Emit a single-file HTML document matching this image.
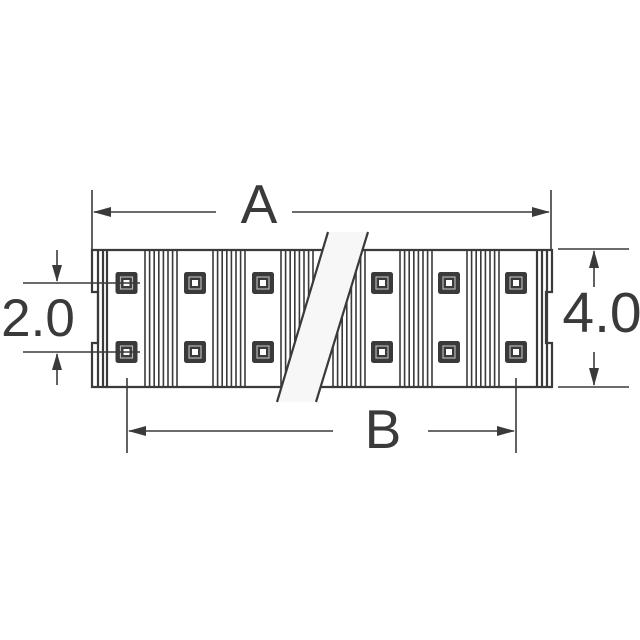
<!DOCTYPE html>
<html><head><style>html,body{margin:0;padding:0;background:#fff;}svg{display:block;}</style></head>
<body>
<svg width="640" height="640" viewBox="0 0 640 640" xmlns="http://www.w3.org/2000/svg">
<defs>
<g id="pad">
<rect x="-11" y="-11" width="22" height="22" rx="2.5" fill="#3a3a3a"/>
<rect x="-6" y="-6" width="12" height="12" fill="none" stroke="#b5b5b5" stroke-width="1.2"/>
<rect x="-3" y="-3" width="6" height="6" fill="#fff"/>
</g>
</defs>
<g stroke="#3a3a3a" fill="none" stroke-width="2.2">
<path d="M92,250 H552 V292 H546 V343 H552 V387 H92 V343 H98 V292 H92 Z" fill="#fff"/>
<line x1="98" y1="250" x2="98" y2="387"/>
<line x1="103" y1="250" x2="103" y2="387"/>
<line x1="107" y1="250" x2="107" y2="387"/>
<line x1="537" y1="250" x2="537" y2="387"/>
<line x1="542" y1="250" x2="542" y2="387"/>
<line x1="547" y1="250" x2="547" y2="387"/>
</g>
<g stroke="#3a3a3a" stroke-width="1.6">
<g id="grp">
<line x1="145" y1="250" x2="145" y2="387"/><line x1="149.6" y1="250" x2="149.6" y2="387"/>
<line x1="154.2" y1="250" x2="154.2" y2="387"/><line x1="158.8" y1="250" x2="158.8" y2="387"/>
<line x1="163.4" y1="250" x2="163.4" y2="387"/><line x1="168" y1="250" x2="168" y2="387"/>
<line x1="172.6" y1="250" x2="172.6" y2="387"/><line x1="177" y1="250" x2="177" y2="387"/>
</g>
<use href="#grp" x="68"/>
<use href="#grp" x="136"/>
<use href="#grp" x="188"/>
<use href="#grp" x="255"/>
<use href="#grp" x="322"/>
</g>
<use href="#pad" x="126.5" y="283"/><use href="#pad" x="126.5" y="352"/>
<use href="#pad" x="195" y="283"/><use href="#pad" x="195" y="352"/>
<use href="#pad" x="263" y="283"/><use href="#pad" x="263" y="352"/>
<use href="#pad" x="382" y="283"/><use href="#pad" x="382" y="352"/>
<use href="#pad" x="449" y="283"/><use href="#pad" x="449" y="352"/>
<use href="#pad" x="516" y="283"/><use href="#pad" x="516" y="352"/>
<polygon points="328,232 368,232 316,402 277,402" fill="#f7f7f7"/>
<g stroke="#3a3a3a" stroke-width="2.2">
<line x1="328" y1="232" x2="277" y2="402"/>
<line x1="368" y1="232" x2="316" y2="402"/>
</g>
<g stroke="#3a3a3a" stroke-width="1.6" fill="none">
<line x1="92" y1="190" x2="92" y2="250"/><line x1="551" y1="190" x2="551" y2="250"/>
<line x1="94" y1="212" x2="216" y2="212"/><line x1="292" y1="212" x2="549" y2="212"/>
<line x1="558" y1="249" x2="629" y2="249"/><line x1="558" y1="387" x2="629" y2="387"/>
<line x1="594" y1="251" x2="594" y2="287"/><line x1="594" y1="352" x2="594" y2="385"/>
<line x1="23" y1="283" x2="140" y2="283"/><line x1="23" y1="352" x2="140" y2="352"/>
<line x1="57" y1="250" x2="57" y2="281"/><line x1="57" y1="354" x2="57" y2="385"/>
<line x1="127" y1="378" x2="127" y2="453"/><line x1="516" y1="378" x2="516" y2="453"/>
<line x1="129" y1="431" x2="333" y2="431"/><line x1="428" y1="431" x2="514" y2="431"/>
</g>
<g fill="#3a3a3a">
<polygon points="93,212 111,207 111,217"/><polygon points="550,212 532,207 532,217"/>
<polygon points="594,250 589,268 599,268"/><polygon points="594,386 589,368 599,368"/>
<polygon points="57,282 52,265 62,265"/><polygon points="57,353 52,370 62,370"/>
<polygon points="128,431 146,426 146,436"/><polygon points="515,431 497,426 497,436"/>
</g>
<g font-family="Liberation Sans, sans-serif" fill="#3a3a3a">
<text x="259" y="223" font-size="55" text-anchor="middle">A</text>
<text x="383" y="448" font-size="55" text-anchor="middle">B</text>
<text x="38" y="336" font-size="53" text-anchor="middle">2.0</text>
<text x="602" y="332" font-size="57" text-anchor="middle">4.0</text>
</g>
</svg>
</body></html>
